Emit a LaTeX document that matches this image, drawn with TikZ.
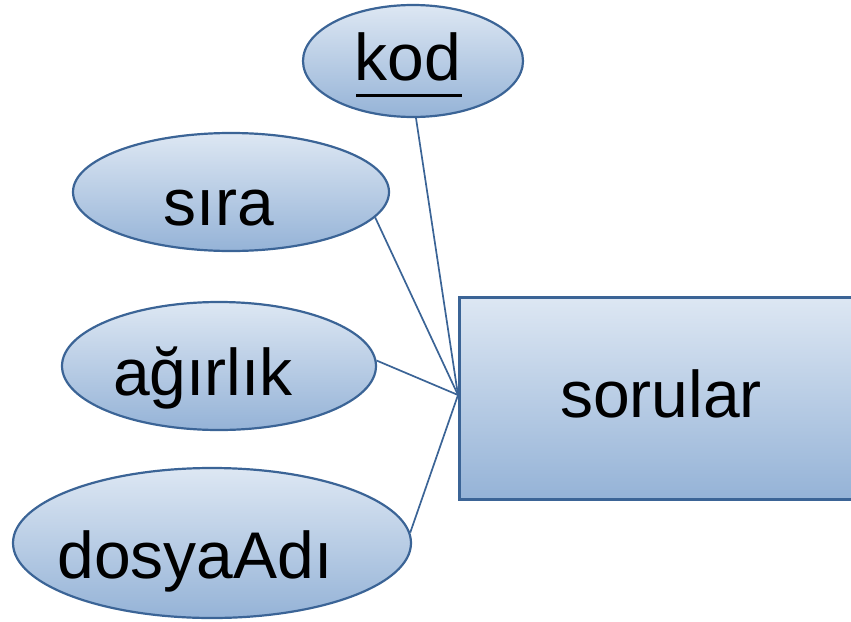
\documentclass[tikz,border=0pt]{standalone}
\usepackage{fontspec}
\setmainfont{Liberation Sans}
\usetikzlibrary{shapes.geometric}
\definecolor{edgeblue}{HTML}{3B6496}
\definecolor{fillTop}{HTML}{DDE7F3}
\definecolor{fillBot}{HTML}{95B3D7}
\tikzset{
  attr/.style={ellipse, draw=edgeblue, line width=2.2pt, top color=fillTop, bottom color=fillBot, inner sep=0pt},
  entity/.style={rectangle, draw=edgeblue, line width=3pt, top color=fillTop, bottom color=fillBot, inner sep=0pt},
  lbl/.style={anchor=base, inner sep=0pt, font=\fontsize{66}{80}\selectfont},
  conn/.style={draw=edgeblue, line width=1.7pt}
}
\begin{document}
\begin{tikzpicture}[x=1pt,y=-1pt]
\useasboundingbox (0,0) rectangle (851,621);
\clip (0,0) rectangle (851,621);
% entity
\node[entity, minimum width=400pt, minimum height=202pt] (sorular) at (659,398) {};
\node[lbl] (sorularT) at (661,417) {sorular};
% attributes
\node[attr, minimum width=220pt, minimum height=112pt] (kod) at (413,61) {};
\node[attr, minimum width=316pt, minimum height=118pt] (sira) at (231,192) {};
\node[attr, minimum width=314pt, minimum height=128pt] (agirlik) at (219,366) {};
\node[attr, minimum width=398pt, minimum height=150pt] (dosya) at (212,543) {};
\node[lbl] (kodT) at (408,80) {kod};
\draw[line width=3pt] ([xshift=-52pt,yshift=-15pt]kodT.base) -- ([xshift=54pt,yshift=-15pt]kodT.base);
\node[lbl] (siraT) at (219,225) {sıra};
\node[lbl] (agirlikT) at (203,395) {ağırlık};
\node[lbl] (dosyaT) at (195,578) {dosyaAdı};
% connectors
\coordinate (hub) at (458,395);
\draw[conn] (kod.-87) -- (hub);
\draw[conn] (sira.-10) -- (hub);
\draw[conn] (agirlik.2) -- (hub);
\draw[conn] (dosya.3) -- (hub);
\end{tikzpicture}
\end{document}
